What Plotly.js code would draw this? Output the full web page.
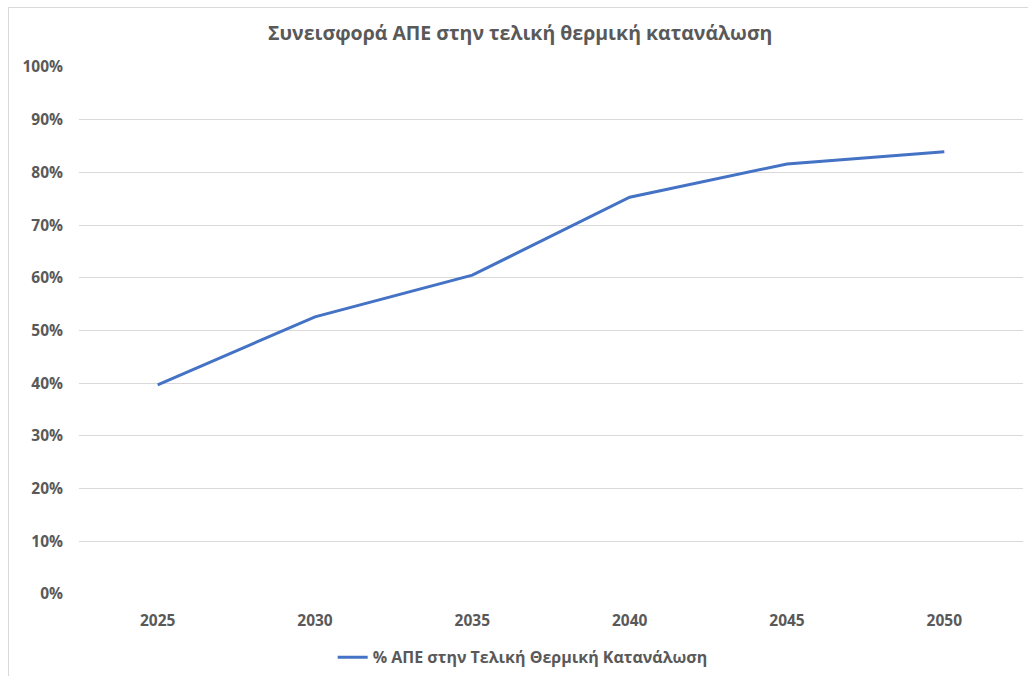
<!DOCTYPE html>
<html>
<head>
<meta charset="utf-8">
<script src="https://cdn.plot.ly/plotly-3.0.1.min.js"></script>
<style>
html,body{margin:0;padding:0;background:#fff;}
#chart{width:1028px;height:677px;}
#frame{position:absolute;left:8px;top:7px;width:1030px;height:668px;border-left:1px solid #d9d9d9;border-top:1px solid #d9d9d9;pointer-events:none;}
</style>
</head>
<body>
<div id="chart"></div>
<div id="frame"></div>
<script>
const years = ['2025', '2030', '2035', '2040', '2045', '2050'];
const resShare = [0.397, 0.526, 0.605, 0.753, 0.816, 0.839];
const seriesName = '% ΑΠΕ στην Τελική Θερμική Κατανάλωση';
const chartTitle = 'Συνεισφορά ΑΠΕ στην τελική θερμική κατανάλωση';

const fontFam = '"Open Sans", "Noto Sans", sans-serif';
const grey = '#595959';

const trace = {
  x: years,
  y: resShare,
  type: 'scatter',
  mode: 'lines',
  name: seriesName,
  line: {color: '#4472C4', width: 3}
};

const layout = {
  width: 1028,
  height: 677,
  margin: {l: 79, r: 5, t: 67, b: 83, autoexpand: false},
  paper_bgcolor: '#ffffff',
  plot_bgcolor: '#ffffff',
  title: {
    text: '<b>' + chartTitle + '</b>',
    x: 0.506, xanchor: 'center',
    y: 0.951, yanchor: 'middle',
    font: {family: fontFam, size: 19.5, color: grey}
  },
  xaxis: {
    type: 'category',
    range: [-0.5, 5.5],
    showgrid: false,
    showline: false,
    zeroline: false,
    ticks: '',
    tickfont: {family: fontFam, size: 15.5, color: grey, weight: 'bold'},
    ticklabelstandoff: 15
  },
  yaxis: {
    range: [0, 1],
    tickvals: [0, 0.1, 0.2, 0.3, 0.4, 0.5, 0.6, 0.7, 0.8, 0.9, 1],
    tickformat: '.0%',
    showgrid: true,
    gridcolor: '#d9d9d9',
    gridwidth: 1,
    zeroline: false,
    showline: false,
    ticks: '',
    ticklabelstandoff: 15,
    tickfont: {family: fontFam, size: 15.5, color: grey, weight: 'bold'}
  },
  showlegend: true,
  legend: {
    orientation: 'h',
    x: 0.47, xanchor: 'center',
    y: -0.12, yanchor: 'middle',
    font: {family: fontFam, size: 16, color: grey, weight: 'bold'}
  }
};

Plotly.newPlot('chart', [trace], layout, {displayModeBar: false, staticPlot: true});
</script>
</body>
</html>
